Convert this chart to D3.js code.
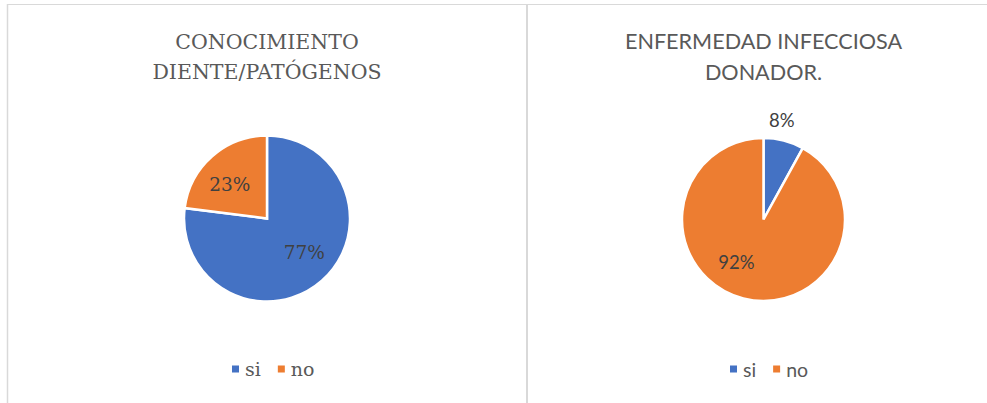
<!DOCTYPE html>
<html>
<head>
<meta charset="utf-8">
<script src="https://cdn.jsdelivr.net/npm/d3@7/dist/d3.min.js"></script>
<style>
  html, body { margin: 0; padding: 0; background: #fff; }
  svg { display: block; }
</style>
</head>
<body>
<div id="chart"></div>
<script>
// Data
const categories = ["si", "no"];
const colorsList = ["#4472C4", "#ED7D31"];

const titleLeft = ["CONOCIMIENTO", "DIENTE/PATÓGENOS"];
const valuesLeft = [77, 23];

const titleRight = ["ENFERMEDAD INFECCIOSA", "DONADOR."];
const valuesRight = [8, 92];

const width = 987, height = 403;

const svg = d3.select("#chart").append("svg")
    .attr("width", width)
    .attr("height", height);

// frame lines
const frame = svg.append("g").attr("stroke", "#D9D9D9").attr("fill", "none");
frame.append("line").attr("x1", 7).attr("x2", width).attr("y1", 4.5).attr("y2", 4.5).attr("stroke-width", 1.2);
frame.append("line").attr("x1", 7.5).attr("x2", 7.5).attr("y1", 4).attr("y2", height).attr("stroke-width", 1.5);
frame.append("line").attr("x1", 527).attr("x2", 527).attr("y1", 4).attr("y2", height).attr("stroke-width", 2);

const color = d3.scaleOrdinal().domain(categories).range(colorsList);

// panels (layout only)
const panels = [
    {
        title: titleLeft, values: valuesLeft,
        cx: 267, cy: 218.5, r: 83,
        font: "'DejaVu Serif', serif", titleSize: 20.5, labelSize: 18.5, legendSize: 19,
        titleY: [49, 79],
        labels: [{ k: 0.61, shift: -6 }, { k: 0.61, shift: -6 }],
        legendX: 232, legendY: 369
    },
    {
        title: titleRight, values: valuesRight,
        cx: 763.5, cy: 219.5, r: 81.5,
        font: "Lato, 'Open Sans', sans-serif", titleSize: 21.6, labelSize: 18.5, legendSize: 19.5,
        titleY: [48.5, 79.5],
        labels: [{ k: 1.24, shift: -4 }, { k: 0.62, shift: 18 }],
        legendX: 730, legendY: 369
    }
];

panels.forEach(p => {
    const g = svg.append("g").attr("font-family", p.font);

    // title
    g.append("text")
        .attr("text-anchor", "middle")
        .attr("fill", "#595959")
        .attr("font-size", p.titleSize)
        .selectAll("tspan")
        .data(p.title)
        .join("tspan")
        .attr("x", p.cx)
        .attr("y", (d, i) => p.titleY[i])
        .text(d => d);

    const data = categories.map((c, i) => ({ name: c, value: p.values[i] }));
    const pie = d3.pie().sort(null).value(d => d.value);
    const arcs = pie(data);
    const arc = d3.arc().innerRadius(0).outerRadius(p.r);

    const pieG = g.append("g").attr("transform", `translate(${p.cx},${p.cy})`);
    pieG.selectAll("path")
        .data(arcs)
        .join("path")
        .attr("d", arc)
        .attr("fill", d => color(d.data.name))
        .attr("stroke", "#fff")
        .attr("stroke-width", 2.5)
        .attr("stroke-linejoin", "miter");

    // percent labels
    const total = d3.sum(p.values);
    pieG.selectAll("text.lbl")
        .data(arcs)
        .join("text")
        .attr("class", "lbl")
        .attr("text-anchor", "middle")
        .attr("dominant-baseline", "central")
        .attr("fill", "#404040")
        .attr("font-size", p.labelSize)
        .attr("transform", (d, i) => {
            const a = (d.startAngle + d.endAngle) / 2 + p.labels[i].shift * Math.PI / 180;
            const rr = p.r * p.labels[i].k;
            return `translate(${rr * Math.sin(a)},${-rr * Math.cos(a)})`;
        })
        .text(d => Math.round(d.data.value / total * 100) + "%");

    // legend
    const leg = g.append("g").attr("transform", `translate(${p.legendX},${p.legendY})`);
    let x = 0;
    categories.forEach((c, i) => {
        const item = leg.append("g").attr("transform", `translate(${x},0)`);
        item.append("rect")
            .attr("x", 0).attr("y", -3.5)
            .attr("width", 7).attr("height", 7)
            .attr("fill", color(c));
        const t = item.append("text")
            .attr("x", 13)
            .attr("dominant-baseline", "central")
            .attr("fill", "#595959")
            .attr("font-size", p.legendSize)
            .text(c);
        x += 13 + t.node().getComputedTextLength() + 17;
    });
});
</script>
</body>
</html>
